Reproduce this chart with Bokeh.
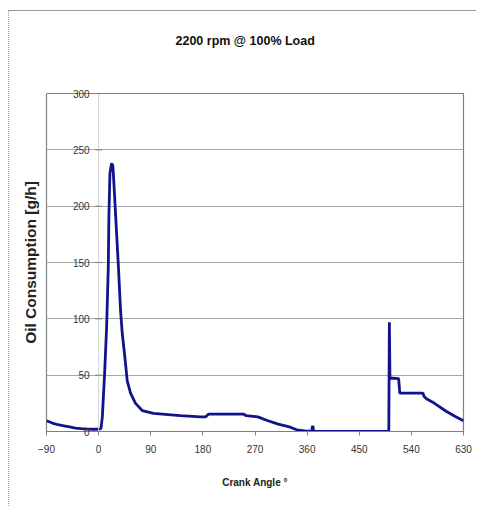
from bokeh.plotting import figure
from bokeh.models import FixedTicker, Span, ColumnDataSource, LinearAxis
from bokeh.core.properties import value
from bokeh.embed import file_html
from bokeh.resources import INLINE

title_text = "2200 rpm @ 100% Load"
x_label = "Crank Angle °"
y_label = "Oil Consumption [g/h]"

x_ticks = [-90, 0, 90, 180, 270, 360, 450, 540, 630]
y_ticks = [0, 50, 100, 150, 200, 250, 300]

crank_angle = [-90, -80, -70, -60, -50, -40, -30, -20, -10, 0, 4, 6.4, 10.3, 13.8,
               16.7, 17.7, 19.5, 22.4, 24.6, 26.4, 30.5, 33.9, 37.9, 40.8, 45.3, 49.4,
               55.1, 63.7, 75.3, 94.7, 120, 141, 176, 185, 190, 250, 255, 275, 290,
               310, 331, 342, 359, 368, 369, 370, 371, 372, 400, 450, 501, 502, 503,
               504, 518, 520, 560, 562, 566, 580, 600, 615, 630]
oil_consumption = [9.5, 7.5, 6, 5, 4, 3, 2.5, 2.2, 2, 2, 2.5, 12.7, 51, 92.5,
                   146, 190, 229, 238, 236, 220, 181, 149, 107, 87, 66, 45,
                   34, 25, 18.6, 16, 15, 14, 13, 13, 15.5, 15.5, 14, 13, 10,
                   6.5, 3.8, 1.5, 0.3, 0.3, 4, 5, 1, 0.3, 0, 0, 0, 97, 47.5,
                   47.5, 47, 34, 34, 31, 29, 25, 18, 13.5, 9.5]

FONT = "Liberation Sans"

p = figure(width=468, height=496, x_range=(-90, 630), y_range=(0, 300),
           output_backend="svg", toolbar_location=None,
           min_border_left=37, min_border_right=14, min_border_top=82, min_border_bottom=76)
p.styles = {"margin-left": "8px", "margin-top": "10px",
            "border-top": "1px solid #9a9a9a", "border-left": "1px dotted #9a9a9a"}

xaxis = p.below[0]
xaxis.ticker = FixedTicker(ticks=x_ticks)
xaxis.axis_line_color = "#808080"
xaxis.major_tick_line_color = "#808080"
xaxis.major_tick_out = 4
xaxis.major_tick_in = 0
xaxis.minor_tick_line_color = None
xaxis.major_label_text_font = FONT
xaxis.major_label_text_font_size = "10px"
xaxis.major_label_text_color = "#333333"
xaxis.major_label_standoff = 9
xaxis.axis_label = x_label
xaxis.axis_label_text_font = FONT
xaxis.axis_label_text_font_style = "bold"
xaxis.axis_label_text_font_size = "10px"
xaxis.axis_label_text_color = "#222222"
xaxis.axis_label_standoff = 21

# invisible spacer axis above the frame (one white tick at the left edge, no label),
# pushing the title upward
spacer = LinearAxis(ticker=FixedTicker(ticks=[x_ticks[0]]), axis_line_color=None,
                    major_tick_line_color="white", minor_tick_line_color=None,
                    major_tick_out=36, major_tick_in=0, major_label_standoff=0,
                    major_label_text_color=None)
p.add_layout(spacer, "above")

p.title.text = title_text
p.title.align = "left"
p.title.offset = 129
p.title.standoff = 20
p.title.vertical_align = "bottom"
p.title.text_font = FONT
p.title.text_font_style = "bold"
p.title.text_font_size = "12.5px"
p.title.text_color = "#111111"

p.outline_line_color = "#808080"
p.outline_line_width = 1.2

p.xgrid.visible = False
p.ygrid.ticker = FixedTicker(ticks=y_ticks)
p.ygrid.grid_line_color = "#a8a8a8"
p.ygrid.grid_line_width = 1

yaxis = p.left[0]
yaxis.ticker = FixedTicker(ticks=[])
yaxis.axis_line_color = None
yaxis.major_tick_line_color = None
yaxis.minor_tick_line_color = None
yaxis.axis_label = y_label
yaxis.axis_label_text_font = FONT
yaxis.axis_label_text_font_style = "bold"
yaxis.axis_label_text_font_size = "15.5px"
yaxis.axis_label_text_color = "#222222"
yaxis.axis_label_standoff = 8

# vertical axis crossing at 0, with its ticks and labels
p.add_layout(Span(location=0, dimension="height", line_color="#d4d4d4", line_width=1))
ysrc = ColumnDataSource(dict(x=[0] * len(y_ticks), y=y_ticks, t=[str(v) for v in y_ticks]))
p.scatter("x", "y", source=ysrc, marker="dash", size=7, line_color="#808080", level="overlay")
p.text("x", "y", text="t", source=ysrc, x_offset=-9, text_align="right",
       text_baseline="middle", text_font=value(FONT), text_font_size="10px",
       text_color="#333333", level="overlay")

p.line(crank_angle, oil_consumption, line_color="#12128c", line_width=2.8)

open("out.html", "w").write(file_html(p, INLINE))
